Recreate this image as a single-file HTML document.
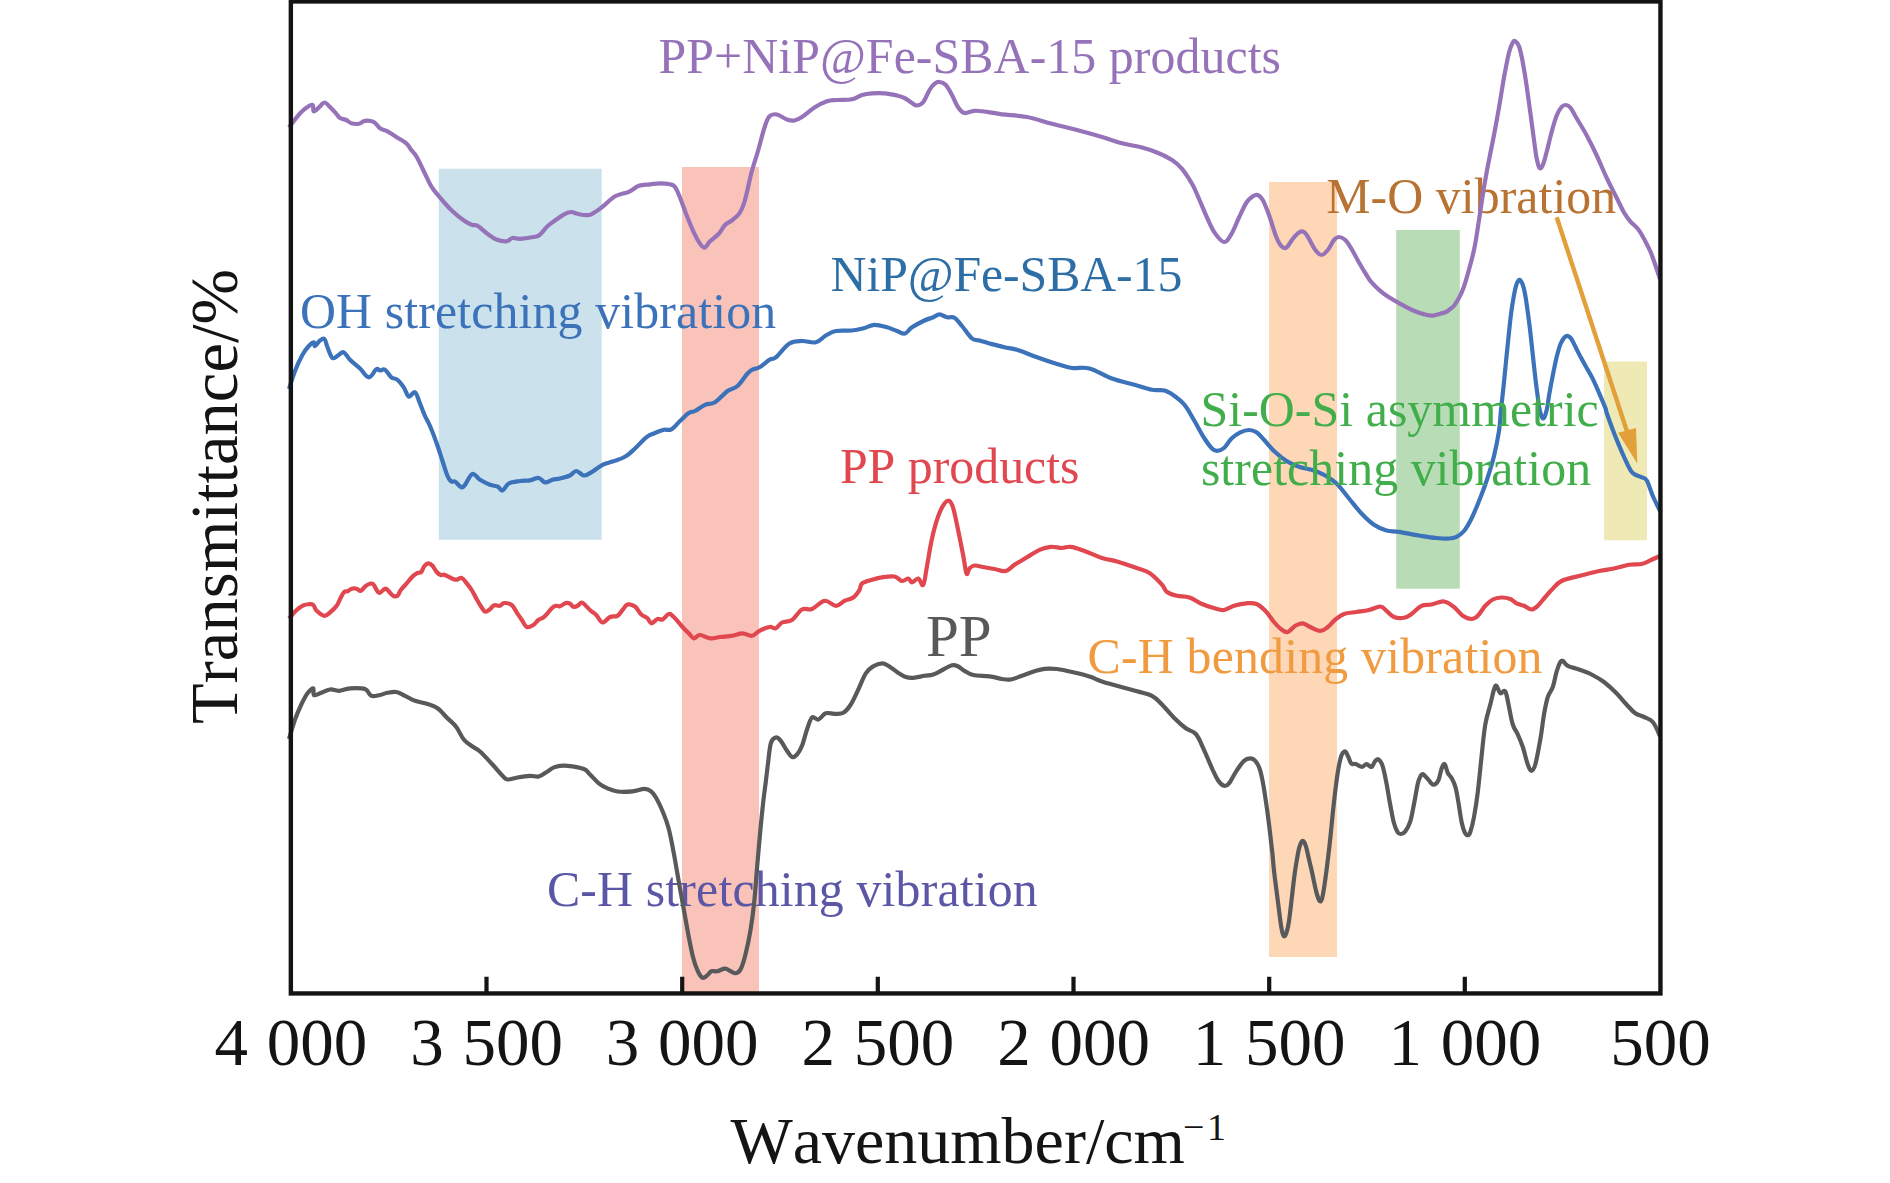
<!DOCTYPE html>
<html><head><meta charset="utf-8"><title>FTIR</title>
<style>
html,body{margin:0;padding:0;background:#fff;}
svg{display:block;}
text{font-family:"Liberation Serif","Times New Roman",serif;font-kerning:none;}
.c{fill:none;stroke-width:4.2;stroke-linejoin:round;stroke-linecap:butt;}
.a{font-size:49.8px;}
.t{font-size:67px;fill:#141414;text-anchor:middle;word-spacing:2px;}
</style></head><body>
<svg width="1890" height="1183" viewBox="0 0 1890 1183">
<rect x="0" y="0" width="1890" height="1183" fill="#ffffff"/>
<!-- highlight bands -->
<rect x="438.75" y="168.75" width="163" height="371" fill="#CBE2EC"/>
<rect x="682" y="167" width="77" height="825" fill="#F9C3B9"/>
<rect x="1269" y="182" width="68" height="775" fill="#FDD7B6"/>
<rect x="1396.2" y="230" width="63.6" height="358.7" fill="#B8DDB6"/>
<rect x="1604" y="361.5" width="43" height="178.75" fill="#EFE9B5"/>
<!-- curves -->
<path class="c" stroke="#3B72B9" d="M289.0 389.0C290.1 385.8 292.6 377.2 295.0 371.0C297.4 364.8 300.0 359.3 302.5 354.8C305.0 350.3 306.8 348.2 308.8 346.0C310.8 343.8 312.7 342.3 313.8 342.3C314.9 342.3 313.9 346.3 315.0 346.0C316.1 345.7 318.3 341.8 320.0 340.5C321.7 339.2 323.1 337.8 324.5 339.0C325.9 340.2 326.1 343.9 327.5 347.3C328.9 350.7 330.5 356.6 332.5 358.0C334.5 359.4 336.8 355.8 338.8 354.8C340.8 353.8 341.8 351.4 343.8 352.3C345.8 353.2 347.1 356.9 350.0 359.8C352.9 362.7 356.6 365.4 360.0 368.5C363.4 371.6 365.9 377.2 368.8 377.3C371.7 377.4 374.3 370.5 376.3 369.3C378.3 368.1 378.4 370.4 380.0 370.5C381.6 370.6 383.0 368.6 385.0 369.8C387.0 371.0 389.1 375.5 391.3 377.3C393.6 379.1 395.2 378.0 397.5 379.8C399.8 381.6 401.8 384.3 403.8 387.3C405.8 390.3 406.8 395.6 408.8 396.5C410.8 397.4 413.0 391.0 415.0 392.3C417.0 393.6 418.2 399.2 420.0 403.5C421.8 407.8 423.2 411.9 425.0 416.0C426.8 420.1 428.0 421.3 430.0 426.0C432.0 430.7 434.1 436.0 436.3 442.3C438.6 448.6 440.5 454.9 442.5 461.0C444.5 467.1 445.9 472.3 447.5 476.0C449.1 479.7 449.9 480.5 451.3 481.5C452.7 482.5 453.2 480.5 455.0 481.5C456.8 482.5 459.5 486.7 461.3 487.3C463.1 487.9 463.0 487.2 465.0 484.8C467.0 482.4 469.8 474.9 472.5 474.0C475.2 473.1 476.9 477.9 480.0 479.8C483.1 481.7 486.9 483.6 490.0 484.8C493.1 486.0 495.2 485.5 497.5 486.5C499.8 487.5 500.5 491.0 502.5 490.5C504.5 490.0 505.7 485.2 508.8 483.5C511.9 481.8 516.2 481.6 520.0 481.0C523.8 480.4 526.6 480.8 530.0 480.3C533.4 479.8 536.1 477.6 538.8 478.0C541.5 478.4 542.5 482.0 545.0 482.3C547.5 482.6 549.8 480.5 552.5 479.8C555.2 479.1 556.9 479.3 560.0 478.5C563.1 477.7 567.1 476.9 570.0 475.5C572.9 474.1 573.8 471.0 576.3 471.0C578.8 471.0 581.1 475.3 583.8 475.5C586.5 475.7 587.9 474.2 591.3 472.3C594.7 470.4 598.7 466.7 602.5 464.8C606.3 462.9 608.5 462.9 612.5 461.5C616.5 460.1 621.0 459.1 625.0 456.8C629.0 454.5 631.2 452.0 635.0 448.5C638.8 445.0 642.7 440.1 646.3 437.3C649.9 434.5 651.9 434.4 655.0 433.0C658.1 431.6 660.9 430.5 663.8 429.8C666.7 429.1 668.4 430.9 671.3 429.3C674.2 427.7 676.9 423.9 680.0 421.0C683.1 418.1 686.1 414.8 688.8 413.0C691.5 411.2 692.1 412.5 695.0 411.0C697.9 409.5 701.4 406.4 705.0 404.8C708.6 403.2 711.0 404.8 715.0 402.3C719.0 399.8 723.5 393.9 727.5 391.0C731.5 388.1 733.9 389.1 737.5 386.0C741.1 382.9 744.9 376.4 747.5 373.5C750.1 370.6 749.8 370.9 752.0 369.8C754.2 368.7 756.4 369.1 759.5 367.3C762.6 365.5 766.6 361.6 769.5 359.8C772.4 358.0 772.2 360.2 775.8 357.3C779.4 354.4 784.8 346.4 789.5 343.5C794.2 340.6 797.3 341.2 802.0 341.0C806.7 340.8 811.5 343.3 815.8 342.3C820.1 341.3 822.2 337.5 825.8 335.5C829.4 333.5 831.1 331.9 835.8 331.0C840.5 330.1 846.8 331.0 852.0 330.5C857.2 330.0 860.5 329.0 864.5 328.0C868.5 327.0 870.5 324.9 874.5 324.8C878.5 324.7 883.0 326.2 887.0 327.3C891.0 328.4 893.8 329.9 897.0 331.0C900.2 332.1 902.3 334.2 905.0 333.5C907.7 332.8 908.5 329.6 912.0 327.3C915.5 325.0 920.7 322.3 924.5 320.5C928.3 318.7 930.6 318.4 933.3 317.3C936.0 316.2 937.0 314.3 939.5 314.3C942.0 314.3 944.3 316.7 947.0 317.3C949.7 317.9 951.8 316.2 954.5 317.8C957.2 319.4 958.9 322.3 962.0 326.0C965.1 329.7 968.9 335.9 972.0 338.5C975.1 341.1 976.4 339.6 979.5 340.5C982.6 341.4 985.0 342.3 989.5 343.5C994.0 344.7 999.5 346.2 1004.5 347.3C1009.5 348.4 1011.1 348.0 1017.0 349.8C1022.9 351.6 1029.8 354.7 1037.0 357.3C1044.2 359.9 1050.7 362.1 1057.0 364.0C1063.3 365.9 1066.2 367.2 1072.0 368.0C1077.8 368.8 1082.3 366.6 1089.5 368.5C1096.7 370.4 1103.9 375.6 1112.0 378.5C1120.1 381.4 1127.3 382.8 1134.5 384.8C1141.7 386.8 1146.6 388.8 1152.0 389.8C1157.4 390.8 1160.5 389.4 1164.5 390.5C1168.5 391.6 1170.9 393.4 1174.5 396.0C1178.1 398.6 1180.9 400.3 1184.5 404.8C1188.1 409.3 1190.9 414.9 1194.5 421.0C1198.1 427.1 1201.3 433.6 1204.5 438.5C1207.7 443.4 1209.8 446.3 1212.0 448.5C1214.2 450.7 1214.8 450.9 1217.0 450.8C1219.2 450.7 1221.4 450.2 1224.0 448.0C1226.6 445.8 1228.6 441.3 1231.5 438.5C1234.4 435.7 1237.1 433.8 1240.3 432.3C1243.5 430.8 1246.1 430.0 1249.0 430.0C1251.9 430.0 1253.8 430.5 1256.5 432.3C1259.2 434.1 1260.8 436.4 1264.0 439.8C1267.2 443.2 1270.0 447.2 1274.0 451.0C1278.0 454.8 1282.0 458.2 1286.5 461.0C1291.0 463.8 1294.5 465.2 1299.0 466.8C1303.5 468.4 1307.0 468.4 1311.5 469.8C1316.0 471.2 1319.5 472.3 1324.0 474.8C1328.5 477.3 1332.0 479.2 1336.5 483.5C1341.0 487.8 1344.5 493.1 1349.0 498.5C1353.5 503.9 1357.0 508.8 1361.5 513.5C1366.0 518.2 1369.5 521.7 1374.0 524.8C1378.5 527.9 1382.0 529.2 1386.5 530.5C1391.0 531.8 1393.2 530.9 1399.0 531.8C1404.8 532.7 1412.2 534.4 1419.0 535.5C1425.8 536.6 1431.1 537.5 1436.5 538.0C1441.9 538.5 1445.4 538.7 1449.0 538.5C1452.6 538.3 1453.8 538.1 1456.5 536.8C1459.2 535.4 1461.3 534.3 1464.0 531.0C1466.7 527.7 1468.8 523.9 1471.5 518.5C1474.2 513.1 1476.3 507.8 1479.0 501.0C1481.7 494.2 1483.8 489.1 1486.5 481.0C1489.2 472.9 1491.8 465.0 1494.0 456.0C1496.2 447.0 1497.7 439.3 1499.0 431.0C1500.3 422.7 1500.2 417.9 1501.0 410.0C1501.8 402.1 1502.6 395.7 1503.5 387.0C1504.4 378.3 1505.1 370.7 1506.0 361.6C1506.9 352.5 1507.7 344.9 1508.6 336.2C1509.5 327.5 1510.2 320.4 1511.1 313.3C1512.0 306.2 1512.8 301.8 1513.7 296.8C1514.6 291.8 1515.2 288.4 1516.2 285.4C1517.2 282.4 1518.3 280.1 1519.4 279.9C1520.5 279.7 1521.5 281.5 1522.5 284.1C1523.5 286.7 1524.2 289.5 1525.1 294.3C1526.0 299.1 1526.7 304.2 1527.6 310.8C1528.5 317.4 1529.3 323.3 1530.2 331.1C1531.1 338.9 1531.8 345.8 1532.7 354.0C1533.6 362.2 1534.3 369.0 1535.2 376.8C1536.1 384.6 1537.0 391.1 1537.8 397.1C1538.6 403.1 1538.7 406.1 1539.7 410.0C1540.7 413.9 1541.9 418.5 1543.2 418.5C1544.5 418.5 1545.6 414.3 1546.7 410.0C1547.8 405.7 1548.1 401.0 1549.2 394.6C1550.3 388.2 1551.6 381.2 1553.0 374.3C1554.4 367.4 1555.4 362.0 1556.8 356.5C1558.2 351.0 1559.2 347.2 1560.6 343.8C1562.0 340.4 1563.1 338.9 1564.4 337.5C1565.7 336.1 1566.4 335.7 1567.6 335.8C1568.8 335.9 1569.5 336.4 1570.8 338.1C1572.1 339.8 1573.0 342.0 1574.6 345.1C1576.2 348.2 1577.6 351.3 1579.7 355.2C1581.8 359.1 1583.7 362.6 1586.0 366.7C1588.3 370.8 1590.1 373.5 1592.4 378.1C1594.7 382.7 1596.4 386.8 1598.7 392.1C1601.0 397.4 1603.6 403.4 1605.1 407.3C1606.6 411.2 1605.6 409.7 1606.9 413.5C1608.2 417.3 1610.2 422.9 1612.3 428.4C1614.4 433.9 1616.1 438.3 1618.4 443.9C1620.7 449.5 1623.0 454.7 1625.2 459.5C1627.4 464.3 1628.9 467.6 1630.6 470.3C1632.3 473.0 1632.7 473.2 1634.6 474.4C1636.5 475.6 1639.2 476.0 1641.4 477.1C1643.6 478.2 1644.7 477.1 1646.8 480.5C1648.9 483.9 1650.4 490.5 1652.8 496.0C1655.2 501.5 1658.7 508.3 1660.0 511.0"/>
<!-- arrow -->
<line x1="1556.7" y1="217.3" x2="1627.2" y2="432" stroke="#E2A03A" stroke-width="4.4"/>
<polygon points="1637.3,463.4 1618,432.8 1636,428" fill="#E2A03A"/>
<!-- annotations -->
<text class="a" x="658.4" y="72.6" fill="#9673B9" textLength="622.6">PP+NiP@Fe-SBA-15 products</text>
<text class="a" x="1326.2" y="213" fill="#B87333" textLength="290">M-O vibration</text>
<text class="a" x="299.9" y="328.3" fill="#3B72B9" textLength="476.2">OH stretching vibration</text>
<text class="a" x="830.6" y="290.8" fill="#2E6EA6" textLength="351.7">NiP@Fe-SBA-15</text>
<text class="a" x="1200.5" y="425.8" fill="#41AE4B" textLength="398.2">Si-O-Si asymmetric</text>
<text class="a" x="1200.9" y="485.4" fill="#41AE4B" textLength="390.2">stretching vibration</text>
<text class="a" x="839.9" y="483.4" fill="#E0474F" textLength="239.6">PP products</text>
<text x="925.9" y="655.9" font-size="59" fill="#58595B">PP</text>
<text class="a" x="1087.6" y="672.9" fill="#F19B40" textLength="454.9">C-H bending vibration</text>
<text class="a" x="546.9" y="905.5" fill="#5B57A6" textLength="490.8">C-H stretching vibration</text>
<path class="c" stroke="#58595B" d="M289.0 739.0C290.1 735.5 292.8 725.7 295.0 719.5C297.2 713.3 299.1 709.2 301.3 704.5C303.6 699.8 305.3 696.2 307.5 693.3C309.7 690.4 312.2 688.0 313.3 688.3C314.4 688.6 312.6 694.1 313.8 695.0C315.0 695.9 317.1 694.3 320.0 693.3C322.9 692.3 326.6 690.0 330.0 689.5C333.4 689.0 335.2 691.0 338.8 690.8C342.4 690.6 345.3 688.6 350.0 688.3C354.7 688.0 361.2 687.6 365.0 689.0C368.8 690.4 368.6 694.7 371.3 695.8C374.0 696.9 377.1 695.5 380.0 695.0C382.9 694.5 384.6 693.3 387.5 692.8C390.4 692.3 393.2 691.5 396.3 692.0C399.4 692.5 401.6 694.2 405.0 695.8C408.4 697.4 410.9 699.3 415.0 700.8C419.1 702.3 423.4 702.6 427.5 704.0C431.6 705.4 433.9 705.7 437.5 708.3C441.1 710.9 444.1 714.9 447.5 718.3C450.9 721.7 453.4 723.2 456.3 727.0C459.2 730.8 460.9 736.0 463.8 739.5C466.7 743.0 469.6 744.3 472.5 746.5C475.4 748.7 476.4 748.3 480.0 751.5C483.6 754.7 488.4 760.1 492.5 764.5C496.6 768.9 499.8 773.1 502.5 775.8C505.2 778.5 504.8 779.2 507.5 779.5C510.2 779.8 513.5 778.2 517.5 777.5C521.5 776.8 526.2 776.0 530.0 775.8C533.8 775.6 535.6 777.3 538.8 776.5C541.9 775.7 544.6 773.2 547.5 771.5C550.4 769.8 551.4 768.0 555.0 767.0C558.6 766.0 562.3 765.4 567.5 765.8C572.7 766.2 579.8 767.4 583.8 769.0C587.8 770.6 587.3 771.9 590.0 774.5C592.7 777.1 595.6 780.8 598.8 783.3C601.9 785.8 604.1 786.8 607.5 788.3C610.9 789.8 613.0 791.0 617.5 791.5C622.0 792.0 627.7 791.8 632.5 791.3C637.3 790.8 641.0 788.9 644.3 788.9C647.6 788.9 648.8 789.5 651.1 791.4C653.4 793.3 654.8 795.5 656.9 799.2C659.0 802.9 660.7 806.6 662.8 811.8C664.9 817.0 666.7 821.1 668.6 828.3C670.5 835.5 671.8 842.6 673.5 851.7C675.2 860.8 676.6 869.1 678.3 878.9C680.0 888.7 681.4 896.3 683.2 906.1C685.0 915.9 686.4 924.2 688.1 933.3C689.8 942.4 691.2 949.9 692.9 956.7C694.6 963.5 696.1 967.4 697.8 971.2C699.5 975.0 700.9 977.0 702.6 977.7C704.3 978.4 705.9 976.3 707.5 975.1C709.1 973.9 709.7 971.9 711.4 971.2C713.1 970.5 714.8 971.7 717.2 971.2C719.6 970.8 722.6 968.7 725.0 968.7C727.4 968.7 728.9 970.4 730.8 971.2C732.7 972.0 733.9 973.5 735.7 973.2C737.5 972.9 738.9 972.6 740.6 969.3C742.3 966.0 743.7 961.5 745.4 954.7C747.1 947.9 748.7 940.9 750.3 931.4C751.9 921.9 753.0 913.8 754.2 902.2C755.4 890.6 756.1 879.4 757.1 867.2C758.1 855.0 759.0 845.4 760.0 834.2C761.0 823.0 761.9 814.5 762.9 805.0C763.9 795.5 764.9 788.9 765.8 781.7C766.7 774.5 766.9 771.9 767.8 765.0C768.7 758.1 769.4 748.2 770.8 743.3C772.2 738.3 774.0 738.0 775.8 737.5C777.6 737.0 778.8 738.4 780.8 740.8C782.8 743.2 785.0 747.9 787.0 750.8C789.0 753.7 790.2 756.3 792.0 757.0C793.8 757.7 795.2 756.5 797.0 754.5C798.8 752.5 800.2 750.3 802.0 745.8C803.8 741.3 805.2 734.6 807.0 729.5C808.8 724.4 810.0 719.3 812.0 717.5C814.0 715.7 815.8 720.3 818.3 719.5C820.8 718.7 822.9 714.3 825.8 713.3C828.7 712.3 831.4 713.9 834.5 713.8C837.6 713.7 840.4 714.5 843.3 712.8C846.2 711.1 848.1 708.7 850.8 704.5C853.5 700.3 855.6 695.1 858.3 689.5C861.0 683.9 863.1 677.5 865.8 673.3C868.5 669.1 870.4 668.1 873.3 666.3C876.2 664.5 879.3 663.4 882.0 663.3C884.7 663.2 885.6 664.2 888.3 665.8C891.0 667.4 893.9 670.0 897.0 672.0C900.1 674.0 902.9 676.0 905.8 677.0C908.7 678.0 909.9 678.0 913.3 677.8C916.7 677.6 920.9 676.4 924.5 675.8C928.1 675.2 929.9 675.6 933.3 674.5C936.7 673.4 939.9 671.2 943.3 669.5C946.7 667.8 949.3 665.8 952.0 665.3C954.7 664.8 956.0 665.5 958.3 666.5C960.5 667.5 961.8 669.3 964.5 670.8C967.2 672.3 968.8 674.0 973.3 675.0C977.8 676.0 984.3 675.6 989.5 676.3C994.7 677.0 998.2 678.4 1002.0 679.0C1005.8 679.6 1007.2 680.1 1010.8 679.5C1014.4 678.9 1017.7 677.3 1022.0 675.8C1026.3 674.3 1030.5 672.6 1034.5 671.3C1038.5 670.0 1040.5 669.2 1044.5 668.8C1048.5 668.4 1052.0 668.4 1057.0 669.0C1062.0 669.6 1066.2 670.6 1072.0 672.0C1077.8 673.4 1084.1 674.8 1089.5 676.5C1094.9 678.2 1096.6 679.7 1102.0 681.5C1107.4 683.3 1113.2 684.7 1119.5 686.5C1125.8 688.3 1131.2 689.6 1137.0 691.3C1142.8 693.0 1147.5 693.4 1152.0 695.8C1156.5 698.2 1158.0 700.5 1162.0 704.5C1166.0 708.5 1170.2 714.0 1174.5 718.3C1178.8 722.6 1182.0 725.5 1185.8 728.3C1189.6 731.1 1192.6 730.4 1195.8 734.0C1199.0 737.6 1200.4 742.1 1203.3 748.3C1206.2 754.5 1209.3 762.4 1212.0 768.3C1214.7 774.1 1216.1 777.6 1218.3 780.8C1220.5 783.9 1222.1 785.3 1224.0 785.8C1225.9 786.2 1226.8 786.0 1229.0 783.3C1231.2 780.6 1233.8 774.8 1236.5 770.8C1239.2 766.8 1241.5 763.0 1244.0 760.8C1246.5 758.5 1248.2 758.3 1250.3 758.3C1252.4 758.3 1253.7 759.0 1255.4 761.0C1257.1 763.0 1258.4 765.2 1259.8 769.2C1261.2 773.2 1261.8 777.0 1263.0 783.2C1264.2 789.4 1265.0 795.5 1266.2 803.5C1267.4 811.5 1268.3 818.5 1269.4 827.6C1270.5 836.7 1271.7 846.8 1272.5 854.3C1273.3 861.8 1273.0 861.8 1273.8 869.0C1274.6 876.2 1275.8 885.3 1277.0 894.4C1278.2 903.5 1279.3 913.2 1280.2 919.8C1281.1 926.4 1281.4 928.3 1282.1 931.3C1282.8 934.3 1283.2 936.1 1284.0 936.3C1284.8 936.5 1285.6 935.2 1286.5 932.5C1287.4 929.8 1288.0 928.0 1289.0 921.1C1290.0 914.2 1291.2 903.1 1292.2 894.4C1293.2 885.7 1294.0 878.7 1294.8 872.9C1295.6 867.1 1295.7 866.5 1296.5 862.0C1297.3 857.5 1298.1 851.7 1299.2 847.9C1300.3 844.1 1301.2 841.5 1302.4 841.0C1303.6 840.5 1304.5 842.3 1305.6 845.4C1306.7 848.5 1307.7 853.9 1308.7 858.1C1309.7 862.3 1309.9 862.9 1311.3 869.0C1312.7 875.1 1314.8 886.2 1316.3 891.9C1317.8 897.6 1318.5 899.6 1319.5 900.8C1320.5 902.0 1321.2 901.3 1322.1 898.3C1323.0 895.3 1323.8 889.8 1324.6 884.3C1325.4 878.8 1326.0 874.2 1326.8 868.0C1327.6 861.8 1328.3 855.9 1329.0 850.0C1329.7 844.1 1329.7 844.0 1330.6 835.2C1331.5 826.4 1332.8 812.4 1334.1 801.0C1335.4 789.6 1336.6 779.7 1337.9 771.7C1339.2 763.7 1339.8 760.2 1341.1 756.5C1342.4 752.8 1343.6 751.4 1344.9 751.4C1346.2 751.4 1346.9 754.3 1348.1 756.5C1349.3 758.7 1349.9 762.1 1351.3 763.5C1352.7 764.9 1353.8 763.5 1355.7 764.1C1357.6 764.7 1360.2 766.9 1362.1 766.9C1364.0 766.9 1364.8 764.1 1366.5 764.1C1368.2 764.1 1370.1 767.4 1371.6 766.9C1373.1 766.4 1373.6 763.0 1374.8 761.6C1376.0 760.2 1376.9 758.6 1378.3 759.3C1379.7 760.0 1381.0 761.3 1382.4 765.4C1383.8 769.5 1384.8 775.0 1386.2 781.9C1387.6 788.8 1388.6 796.2 1390.0 803.5C1391.4 810.8 1392.4 817.4 1393.8 822.5C1395.2 827.6 1396.3 830.0 1397.6 832.1C1398.9 834.2 1399.4 834.1 1400.8 834.0C1402.2 833.9 1403.5 833.7 1405.2 831.4C1406.9 829.1 1408.7 826.3 1410.3 821.3C1411.9 816.3 1412.7 810.4 1414.1 803.5C1415.5 796.6 1416.7 788.1 1417.9 783.2C1419.1 778.3 1419.6 777.8 1420.5 776.2C1421.4 774.6 1421.6 773.7 1423.0 774.3C1424.4 774.9 1426.3 777.5 1428.1 779.4C1429.9 781.3 1431.4 784.5 1433.2 784.7C1435.0 784.9 1436.8 783.4 1438.3 780.6C1439.8 777.8 1440.3 772.2 1441.4 769.2C1442.5 766.2 1443.4 763.4 1444.6 764.1C1445.8 764.8 1446.5 770.5 1447.8 773.0C1449.1 775.5 1450.2 775.6 1451.6 778.1C1453.0 780.6 1454.1 782.4 1455.4 787.0C1456.7 791.6 1457.5 797.1 1458.6 803.5C1459.7 809.9 1460.6 817.2 1461.7 822.5C1462.8 827.8 1463.7 830.4 1464.9 832.7C1466.1 835.0 1467.1 835.3 1468.1 835.2C1469.1 835.1 1469.2 835.3 1470.3 832.0C1471.4 828.7 1472.7 824.2 1474.0 817.0C1475.3 809.8 1476.5 802.8 1477.8 792.0C1479.1 781.2 1480.2 769.1 1481.5 757.0C1482.8 744.9 1483.7 734.0 1485.3 724.5C1486.9 715.0 1488.7 710.8 1490.3 704.5C1491.9 698.2 1492.9 692.9 1494.0 689.5C1495.1 686.1 1495.4 685.1 1496.5 685.8C1497.6 686.5 1498.7 692.3 1500.3 693.3C1501.9 694.3 1503.7 689.0 1505.3 691.5C1506.9 694.0 1507.7 701.1 1509.0 707.0C1510.3 712.9 1511.2 719.5 1512.8 724.5C1514.4 729.5 1516.0 730.5 1517.8 734.5C1519.6 738.5 1521.0 741.6 1522.8 747.0C1524.6 752.4 1526.2 760.2 1527.8 764.5C1529.4 768.8 1530.2 770.8 1531.5 770.8C1532.8 770.8 1533.7 770.1 1535.3 764.5C1536.9 758.9 1538.7 748.5 1540.3 739.5C1541.9 730.5 1542.7 722.1 1544.0 714.5C1545.3 706.9 1546.2 702.0 1547.8 697.0C1549.4 692.0 1551.2 691.5 1552.8 687.0C1554.4 682.5 1555.2 676.5 1556.5 672.0C1557.8 667.5 1559.2 664.0 1560.3 662.0C1561.4 660.0 1561.5 660.1 1562.8 660.8C1564.1 661.5 1564.9 664.2 1567.8 665.8C1570.7 667.4 1574.7 667.9 1579.0 669.5C1583.3 671.1 1587.0 672.2 1591.5 674.5C1596.0 676.8 1599.5 678.6 1604.0 682.0C1608.5 685.4 1612.5 689.2 1616.5 693.3C1620.5 697.3 1623.1 700.9 1626.5 704.5C1629.9 708.1 1632.1 711.0 1635.3 713.3C1638.5 715.5 1640.8 715.4 1644.0 717.0C1647.2 718.6 1649.9 718.6 1652.8 722.0C1655.7 725.4 1658.7 733.5 1660.0 736.0"/>
<path class="c" stroke="#E0474F" d="M289.0 618.5C290.4 617.0 294.1 612.4 296.7 610.0C299.3 607.6 301.1 606.3 303.3 605.3C305.6 604.3 307.4 604.3 309.2 604.2C311.0 604.1 311.9 603.8 313.3 605.0C314.7 606.2 314.7 608.9 316.7 610.8C318.7 612.7 321.8 615.5 324.2 615.8C326.6 616.1 327.8 614.3 330.0 612.5C332.2 610.7 334.8 608.5 336.7 605.8C338.6 603.1 339.4 600.0 340.8 597.5C342.2 595.0 343.0 593.1 344.2 592.0C345.4 590.9 346.1 591.9 347.5 591.3C348.9 590.7 350.0 589.2 351.7 588.7C353.4 588.2 355.1 588.3 356.7 588.7C358.3 589.1 359.2 591.3 360.8 590.8C362.4 590.3 364.1 587.1 365.8 585.8C367.5 584.5 368.6 584.0 370.0 583.7C371.4 583.4 372.1 583.1 373.3 584.2C374.5 585.3 375.6 588.4 376.7 590.0C377.8 591.6 378.0 593.2 379.5 593.0C381.0 592.8 383.4 589.1 385.0 588.7C386.6 588.3 386.8 589.5 388.3 590.8C389.8 592.1 391.6 594.9 393.3 595.8C395.0 596.7 396.1 596.8 397.5 595.8C398.9 594.8 399.1 592.2 400.8 590.0C402.5 587.8 404.4 585.9 406.7 583.3C408.9 580.7 411.4 577.7 413.3 575.8C415.2 573.9 416.1 573.7 417.5 573.0C418.9 572.3 420.1 573.2 421.3 572.0C422.5 570.8 422.9 567.9 424.2 566.3C425.5 564.7 426.8 563.4 428.3 563.3C429.8 563.2 431.0 564.2 432.5 565.8C434.0 567.4 435.2 570.3 436.7 572.0C438.2 573.7 439.4 574.5 440.8 575.0C442.2 575.5 442.5 574.2 444.2 574.7C445.9 575.2 447.9 576.6 450.0 577.5C452.1 578.4 453.7 579.6 455.8 579.7C457.9 579.8 459.7 577.4 461.7 578.0C463.7 578.6 464.9 581.1 466.7 583.3C468.5 585.5 469.9 587.1 471.7 590.0C473.5 592.9 474.9 596.1 476.7 599.2C478.5 602.4 480.2 605.2 481.7 607.5C483.2 609.8 483.8 611.4 485.3 611.7C486.8 612.0 488.4 610.4 490.0 609.2C491.6 608.0 492.4 605.9 494.2 605.3C496.0 604.7 498.2 606.2 500.0 605.8C501.8 605.4 502.1 603.1 504.2 603.0C506.3 602.9 509.4 603.3 511.7 605.0C514.0 606.7 514.9 609.9 516.7 612.5C518.5 615.1 519.9 617.1 521.7 619.7C523.5 622.3 524.6 626.0 526.7 627.0C528.8 628.0 531.2 626.3 533.3 625.0C535.4 623.7 536.5 621.4 538.3 620.0C540.1 618.6 541.6 618.7 543.3 617.5C545.0 616.3 546.0 615.0 547.5 613.3C549.0 611.6 550.2 609.6 551.7 608.3C553.2 606.9 554.3 606.2 555.8 605.8C557.3 605.4 558.2 606.8 560.0 606.3C561.8 605.8 564.0 603.5 565.8 603.0C567.6 602.5 568.6 603.0 570.0 603.7C571.4 604.4 571.9 606.3 573.3 606.7C574.6 607.1 576.0 606.6 577.5 605.8C579.0 605.0 580.2 602.5 581.7 602.5C583.2 602.5 584.2 604.3 585.8 605.8C587.4 607.3 588.9 609.1 590.8 610.8C592.7 612.5 594.2 612.9 596.3 615.0C598.4 617.1 600.0 622.1 602.5 622.5C605.0 622.9 607.3 618.2 610.0 617.0C612.7 615.8 615.2 617.1 617.5 615.8C619.8 614.5 620.7 612.0 622.5 610.0C624.3 608.0 625.2 605.1 627.5 604.5C629.8 603.9 632.5 604.7 635.0 606.5C637.5 608.3 639.0 612.4 641.3 614.5C643.5 616.6 645.7 616.7 647.5 618.3C649.3 619.9 649.5 623.2 651.3 623.3C653.1 623.4 655.5 619.7 657.5 619.0C659.5 618.3 660.5 620.4 662.5 619.5C664.5 618.6 666.8 614.5 668.8 614.0C670.8 613.5 671.3 614.7 673.8 617.0C676.3 619.3 679.8 624.1 682.5 627.0C685.2 629.9 686.8 631.3 688.8 633.3C690.8 635.3 691.8 638.0 693.8 638.3C695.8 638.6 697.1 635.0 700.0 635.0C702.9 635.0 706.4 637.9 710.0 638.3C713.6 638.7 716.0 637.5 720.0 637.0C724.0 636.5 728.5 636.5 732.5 635.8C736.5 635.1 739.0 633.3 742.5 633.3C746.0 633.3 748.9 636.2 752.0 635.8C755.1 635.3 756.4 632.4 759.5 630.8C762.6 629.2 766.6 627.5 769.5 627.0C772.4 626.5 773.5 629.1 775.8 628.3C778.0 627.5 779.1 624.0 782.0 622.5C784.9 621.0 788.4 622.3 792.0 620.0C795.6 617.7 798.4 611.5 802.0 609.5C805.6 607.5 808.0 610.6 812.0 609.0C816.0 607.4 820.2 601.4 824.5 600.8C828.8 600.2 832.2 605.8 835.8 605.8C839.4 605.8 841.4 602.3 844.5 600.8C847.6 599.3 850.6 599.4 853.3 597.5C856.0 595.6 857.9 592.5 859.5 590.0C861.1 587.5 859.8 585.3 862.0 583.5C864.2 581.7 868.4 580.9 872.0 579.8C875.6 578.7 878.0 577.9 882.0 577.3C886.0 576.7 890.9 575.8 894.5 576.5C898.1 577.2 899.5 580.6 902.0 581.0C904.5 581.4 906.5 578.3 908.3 578.5C910.1 578.7 910.2 582.3 912.0 582.3C913.8 582.3 916.3 578.0 918.3 578.5C920.3 579.0 921.7 587.0 923.3 584.8C924.9 582.5 925.4 574.3 927.0 566.0C928.6 557.7 930.0 547.5 932.0 538.5C934.0 529.5 936.0 522.3 938.3 516.0C940.5 509.7 942.5 506.2 944.5 503.5C946.5 500.8 947.9 500.1 949.5 501.0C951.1 501.9 951.7 503.1 953.3 508.5C954.9 513.9 956.5 522.5 958.3 531.0C960.1 539.5 961.8 548.4 963.3 556.0C964.8 563.6 965.4 571.2 966.5 573.5C967.6 575.8 968.1 569.9 969.5 568.5C970.9 567.1 971.8 565.7 974.5 565.5C977.2 565.3 980.9 566.7 984.5 567.3C988.1 567.9 990.7 568.3 994.5 569.0C998.3 569.7 1002.2 571.8 1005.8 571.0C1009.4 570.2 1010.7 567.3 1014.5 564.8C1018.3 562.3 1022.5 560.0 1027.0 557.3C1031.5 554.6 1035.2 551.7 1039.5 549.8C1043.8 547.9 1046.8 547.1 1050.8 546.8C1054.8 546.5 1058.4 548.0 1062.0 548.0C1065.6 548.0 1066.8 546.3 1070.8 546.8C1074.8 547.3 1078.9 549.0 1084.5 551.0C1090.1 553.0 1096.2 556.1 1102.0 558.0C1107.8 559.9 1111.2 559.8 1117.0 561.5C1122.8 563.2 1128.7 565.2 1134.5 567.3C1140.3 569.4 1144.5 569.9 1149.5 573.0C1154.5 576.1 1158.8 581.4 1162.0 584.8C1165.2 588.2 1164.3 590.0 1167.0 592.0C1169.7 594.0 1173.0 594.8 1177.0 595.8C1181.0 596.8 1185.0 596.0 1189.5 597.5C1194.0 599.0 1197.5 602.1 1202.0 604.0C1206.5 605.9 1210.5 607.2 1214.5 608.3C1218.5 609.4 1220.5 610.5 1224.0 610.0C1227.5 609.5 1230.0 607.0 1234.0 605.8C1238.0 604.6 1242.5 603.6 1246.5 603.3C1250.5 603.0 1253.1 602.6 1256.5 604.0C1259.9 605.4 1262.1 607.6 1265.3 610.8C1268.5 614.0 1271.1 618.6 1274.0 622.0C1276.9 625.4 1279.0 627.7 1281.5 629.5C1284.0 631.3 1285.3 632.7 1287.8 632.0C1290.3 631.3 1292.6 627.4 1295.3 625.8C1298.0 624.2 1300.1 623.1 1302.8 623.3C1305.5 623.5 1307.1 625.6 1310.3 627.0C1313.5 628.4 1317.1 630.8 1320.3 630.8C1323.5 630.8 1325.1 629.0 1327.8 627.0C1330.5 625.0 1332.4 621.8 1335.3 619.5C1338.2 617.2 1340.2 615.4 1344.0 614.0C1347.8 612.6 1352.0 612.7 1356.5 612.0C1361.0 611.3 1364.7 611.0 1369.0 610.0C1373.3 609.0 1377.1 606.4 1380.3 606.5C1383.5 606.6 1384.0 608.9 1386.5 610.8C1389.0 612.7 1390.8 615.7 1394.0 617.0C1397.2 618.3 1400.8 618.3 1404.0 617.8C1407.2 617.3 1408.3 616.2 1411.5 614.0C1414.7 611.8 1417.9 607.5 1421.5 605.8C1425.1 604.1 1427.5 605.3 1431.5 604.5C1435.5 603.7 1440.0 601.0 1444.0 601.5C1448.0 602.0 1450.6 604.4 1454.0 607.0C1457.4 609.6 1459.6 613.6 1462.8 615.8C1466.0 618.0 1468.8 619.0 1471.5 619.0C1474.2 619.0 1475.3 618.2 1477.8 615.8C1480.3 613.4 1482.6 608.7 1485.3 605.8C1488.0 602.9 1489.9 601.0 1492.8 599.5C1495.7 598.0 1498.3 597.6 1501.5 597.5C1504.7 597.4 1507.6 598.0 1510.3 599.0C1513.0 600.0 1514.0 602.1 1516.5 603.3C1519.0 604.5 1521.3 604.7 1524.0 605.8C1526.7 606.9 1529.0 609.5 1531.5 609.5C1534.0 609.5 1535.3 608.0 1537.8 605.8C1540.3 603.5 1542.8 599.8 1545.3 597.0C1547.8 594.2 1548.6 592.9 1551.5 590.0C1554.4 587.1 1556.5 583.5 1561.5 581.0C1566.5 578.5 1572.2 577.8 1579.0 576.0C1585.8 574.2 1592.7 572.4 1599.0 571.0C1605.3 569.6 1608.6 569.6 1614.0 568.5C1619.4 567.4 1624.0 565.6 1629.0 564.8C1634.0 564.0 1637.5 564.9 1641.5 564.0C1645.5 563.1 1648.2 561.2 1651.5 559.8C1654.8 558.4 1658.5 556.7 1660.0 556.0"/>
<path class="c" stroke="#9673B9" d="M289.0 127.5C290.5 125.5 294.6 119.7 297.5 116.3C300.4 112.9 302.3 110.8 305.0 108.8C307.7 106.8 310.9 104.5 312.5 105.0C314.1 105.5 312.4 111.1 313.8 111.3C315.2 111.5 318.1 107.9 320.0 106.3C321.9 104.7 322.7 102.4 324.5 102.5C326.3 102.6 327.9 105.0 330.0 107.0C332.1 109.0 334.5 111.8 336.3 113.8C338.1 115.8 338.2 116.9 340.0 118.0C341.8 119.1 344.3 119.0 346.3 120.0C348.3 121.0 349.1 122.6 351.3 123.3C353.6 124.0 356.3 124.2 358.8 123.8C361.3 123.3 362.3 121.1 365.0 120.8C367.7 120.5 371.1 120.6 373.8 122.0C376.5 123.4 377.5 126.6 380.0 128.3C382.5 130.0 384.6 129.7 387.5 131.3C390.4 132.9 392.9 134.8 396.3 137.0C399.7 139.2 403.6 141.0 406.3 143.3C409.0 145.6 409.5 147.7 411.3 150.0C413.1 152.3 414.1 152.5 416.3 156.3C418.6 160.1 421.1 165.9 423.8 171.3C426.5 176.7 428.4 181.6 431.3 186.3C434.2 191.0 436.2 193.0 440.0 197.5C443.8 202.0 448.0 207.0 452.5 211.3C457.0 215.6 461.4 218.8 465.0 221.3C468.6 223.8 470.2 224.2 472.5 225.0C474.8 225.8 474.8 224.2 477.5 225.8C480.2 227.4 484.1 231.3 487.5 233.8C490.9 236.3 492.9 238.2 496.3 239.5C499.7 240.8 503.4 241.6 506.3 241.3C509.2 241.0 510.0 238.4 512.5 238.0C515.0 237.6 516.0 239.0 520.0 238.8C524.0 238.6 531.4 237.6 535.0 236.8C538.6 236.0 537.8 236.4 540.0 234.5C542.2 232.6 544.8 228.8 547.5 226.3C550.2 223.8 551.9 222.8 555.0 220.5C558.1 218.2 562.1 215.3 565.0 213.8C567.9 212.3 569.0 212.0 571.3 212.0C573.5 212.0 575.2 213.3 577.5 213.8C579.8 214.3 581.3 214.9 583.8 215.0C586.3 215.1 587.9 215.8 591.3 214.3C594.7 212.8 598.2 210.0 602.5 206.8C606.8 203.6 610.3 199.0 615.0 196.3C619.7 193.6 624.5 193.7 628.8 191.8C633.1 189.9 635.0 187.2 638.8 185.8C642.6 184.5 646.2 184.8 650.0 184.3C653.8 183.9 656.4 183.3 660.0 183.3C663.6 183.3 667.3 183.6 670.0 184.3C672.7 185.0 673.2 184.6 675.0 187.0C676.8 189.4 677.8 192.0 680.0 197.5C682.2 203.0 684.6 210.3 687.5 217.5C690.4 224.7 693.4 232.1 696.3 237.5C699.2 242.9 701.3 246.8 703.8 247.5C706.3 248.2 707.3 243.8 710.0 241.3C712.7 238.8 716.1 236.7 718.8 233.8C721.5 230.9 722.5 227.5 725.0 225.0C727.5 222.5 729.8 222.2 732.5 220.0C735.2 217.8 737.8 216.1 740.0 212.5C742.2 208.9 742.9 207.2 745.0 200.0C747.1 192.8 749.1 181.5 751.5 172.5C753.9 163.5 756.0 158.1 758.3 150.0C760.6 141.9 762.5 133.6 764.5 127.5C766.5 121.4 767.2 118.6 769.5 116.3C771.8 114.0 773.9 113.9 777.0 114.5C780.1 115.1 783.9 118.4 787.0 119.5C790.1 120.6 791.8 121.0 794.5 120.5C797.2 120.0 798.4 119.3 802.0 117.0C805.6 114.7 810.0 110.3 814.5 107.5C819.0 104.7 823.0 102.6 827.0 101.3C831.0 100.0 832.5 100.4 837.0 100.0C841.5 99.6 847.5 100.2 852.0 99.3C856.5 98.4 858.4 96.1 862.0 95.0C865.6 93.9 868.0 93.6 872.0 93.3C876.0 93.0 880.0 92.9 884.5 93.3C889.0 93.7 893.4 94.7 897.0 95.5C900.6 96.3 901.8 96.7 904.5 98.0C907.2 99.3 909.8 101.7 912.0 103.0C914.2 104.3 915.0 105.7 917.0 105.5C919.0 105.3 921.0 104.8 923.3 102.0C925.5 99.2 927.5 93.3 929.5 90.0C931.5 86.7 932.7 85.2 934.5 83.8C936.3 82.4 937.5 81.8 939.5 82.0C941.5 82.2 943.5 82.7 945.8 85.0C948.0 87.3 949.8 91.0 952.0 95.0C954.2 99.0 956.0 104.3 958.3 107.5C960.5 110.7 961.6 112.4 964.5 113.0C967.4 113.6 970.5 111.0 974.5 110.8C978.5 110.6 982.0 111.2 987.0 111.8C992.0 112.4 994.8 113.4 1002.0 114.3C1009.2 115.2 1018.0 115.3 1027.0 117.0C1036.0 118.7 1043.0 121.5 1052.0 123.8C1061.0 126.1 1068.0 127.6 1077.0 130.0C1086.0 132.4 1093.9 134.6 1102.0 137.0C1110.1 139.4 1114.8 141.4 1122.0 143.3C1129.2 145.2 1135.7 145.8 1142.0 147.5C1148.3 149.2 1151.6 150.2 1157.0 152.5C1162.4 154.8 1167.5 157.1 1172.0 160.0C1176.5 162.9 1178.4 164.5 1182.0 168.8C1185.6 173.1 1188.8 178.2 1192.0 183.8C1195.2 189.4 1196.8 193.9 1199.5 200.0C1202.2 206.1 1204.3 211.7 1207.0 217.5C1209.7 223.3 1211.4 228.1 1214.5 232.5C1217.6 236.9 1220.9 241.8 1224.0 242.0C1227.1 242.2 1228.8 238.2 1231.5 233.8C1234.2 229.4 1236.3 223.1 1239.0 217.5C1241.7 211.9 1244.0 206.3 1246.5 202.5C1249.0 198.7 1250.8 197.7 1252.8 196.3C1254.8 195.0 1256.0 194.3 1257.8 195.0C1259.6 195.7 1260.8 196.4 1262.8 200.0C1264.8 203.6 1266.5 208.2 1269.0 215.0C1271.5 221.8 1274.2 231.9 1276.5 237.5C1278.8 243.1 1279.7 244.5 1281.5 246.3C1283.3 248.1 1284.5 248.8 1286.5 247.5C1288.5 246.2 1290.5 241.5 1292.8 238.8C1295.0 236.1 1297.0 233.7 1299.0 232.5C1301.0 231.3 1302.2 230.9 1304.0 232.0C1305.8 233.1 1307.0 235.6 1309.0 238.8C1311.0 242.0 1313.0 247.1 1315.3 250.0C1317.5 252.9 1319.2 255.0 1321.5 255.0C1323.8 255.0 1325.5 252.7 1327.8 250.0C1330.0 247.3 1332.0 242.3 1334.0 240.0C1336.0 237.7 1337.0 237.0 1339.0 237.0C1341.0 237.0 1343.0 237.9 1345.3 240.0C1347.5 242.1 1349.0 244.8 1351.5 248.8C1354.0 252.9 1356.3 257.8 1359.0 262.5C1361.7 267.2 1364.4 271.7 1366.5 275.0C1368.6 278.3 1368.1 278.3 1370.5 281.1C1372.9 283.9 1376.3 287.5 1380.0 290.6C1383.7 293.8 1387.1 296.0 1391.1 298.6C1395.1 301.2 1398.2 302.8 1402.2 304.9C1406.2 307.0 1409.3 308.8 1413.3 310.5C1417.3 312.2 1421.0 313.5 1424.4 314.4C1427.8 315.3 1429.5 315.8 1432.4 315.7C1435.3 315.6 1437.9 314.4 1440.3 313.7C1442.7 313.0 1444.3 312.8 1446.0 312.0C1447.7 311.2 1448.0 310.8 1449.5 309.5C1451.0 308.2 1452.5 307.7 1454.6 304.9C1456.7 302.1 1459.0 298.1 1461.0 293.8C1463.0 289.5 1463.4 289.0 1465.7 281.1C1468.0 273.2 1471.6 261.0 1474.0 250.0C1476.4 239.0 1477.2 231.2 1479.0 220.0C1480.8 208.8 1482.2 198.3 1484.0 187.5C1485.8 176.7 1487.2 169.4 1489.0 160.0C1490.8 150.6 1492.2 144.4 1494.0 135.0C1495.8 125.5 1497.2 117.8 1499.0 107.5C1500.8 97.2 1502.2 87.4 1504.0 77.5C1505.8 67.6 1507.4 58.8 1509.0 52.5C1510.6 46.2 1511.7 44.5 1512.8 42.5C1513.9 40.5 1514.2 40.6 1515.3 41.3C1516.4 42.0 1517.7 42.5 1519.0 46.3C1520.3 50.1 1521.5 55.5 1522.8 62.5C1524.1 69.5 1525.2 76.0 1526.5 85.0C1527.8 94.0 1529.0 102.6 1530.3 112.5C1531.6 122.4 1532.9 131.9 1534.0 140.0C1535.1 148.1 1535.5 152.5 1536.5 157.5C1537.5 162.5 1538.4 166.7 1539.5 168.0C1540.6 169.3 1541.5 167.8 1542.8 165.0C1544.1 162.2 1544.9 158.3 1546.5 152.5C1548.1 146.7 1549.7 139.1 1551.5 132.5C1553.3 125.9 1554.7 120.6 1556.5 116.0C1558.3 111.4 1559.8 109.0 1561.5 107.0C1563.2 105.0 1564.4 104.9 1566.0 105.0C1567.6 105.1 1568.4 105.2 1570.3 107.5C1572.2 109.8 1573.6 113.0 1576.5 118.0C1579.4 123.0 1582.9 128.3 1586.5 135.0C1590.1 141.7 1592.9 147.3 1596.5 155.0C1600.1 162.7 1602.9 169.8 1606.5 177.5C1610.1 185.2 1613.3 191.2 1616.5 197.5C1619.7 203.8 1621.5 208.2 1624.0 212.5C1626.5 216.8 1627.8 218.4 1630.3 221.3C1632.8 224.2 1635.3 225.7 1637.8 228.8C1640.3 232.0 1641.8 234.8 1644.0 238.8C1646.2 242.9 1648.3 246.6 1650.3 251.3C1652.3 256.0 1653.6 260.0 1655.3 265.0C1657.0 270.0 1659.2 276.5 1660.0 279.0"/>
<!-- frame -->
<rect x="290.85" y="1.45" width="1369.6" height="992" fill="none" stroke="#141414" stroke-width="4.4"/>
<line x1="486.5" y1="976.75" x2="486.5" y2="992" stroke="#141414" stroke-width="4.2"/>
<line x1="682.2" y1="976.75" x2="682.2" y2="992" stroke="#141414" stroke-width="4.2"/>
<line x1="877.8" y1="976.75" x2="877.8" y2="992" stroke="#141414" stroke-width="4.2"/>
<line x1="1073.5" y1="976.75" x2="1073.5" y2="992" stroke="#141414" stroke-width="4.2"/>
<line x1="1269.2" y1="976.75" x2="1269.2" y2="992" stroke="#141414" stroke-width="4.2"/>
<line x1="1464.8" y1="976.75" x2="1464.8" y2="992" stroke="#141414" stroke-width="4.2"/>
<text class="t" x="290.9" y="1065">4 000</text>
<text class="t" x="486.5" y="1065">3 500</text>
<text class="t" x="682.2" y="1065">3 000</text>
<text class="t" x="877.8" y="1065">2 500</text>
<text class="t" x="1073.5" y="1065">2 000</text>
<text class="t" x="1269.2" y="1065">1 500</text>
<text class="t" x="1464.8" y="1065">1 000</text>
<text class="t" x="1660.5" y="1065">500</text>
<!-- axis titles -->
<text x="730.4" y="1162.9" font-size="66" fill="#141414">Wavenumber/cm</text>
<text x="1183" y="1140" font-size="38" fill="#141414">−<tspan dx="2.5">1</tspan></text>
<text transform="translate(236.6 724) rotate(-90)" font-size="66.6" fill="#141414" textLength="455">Transmittance/%</text>
</svg>
</body></html>
